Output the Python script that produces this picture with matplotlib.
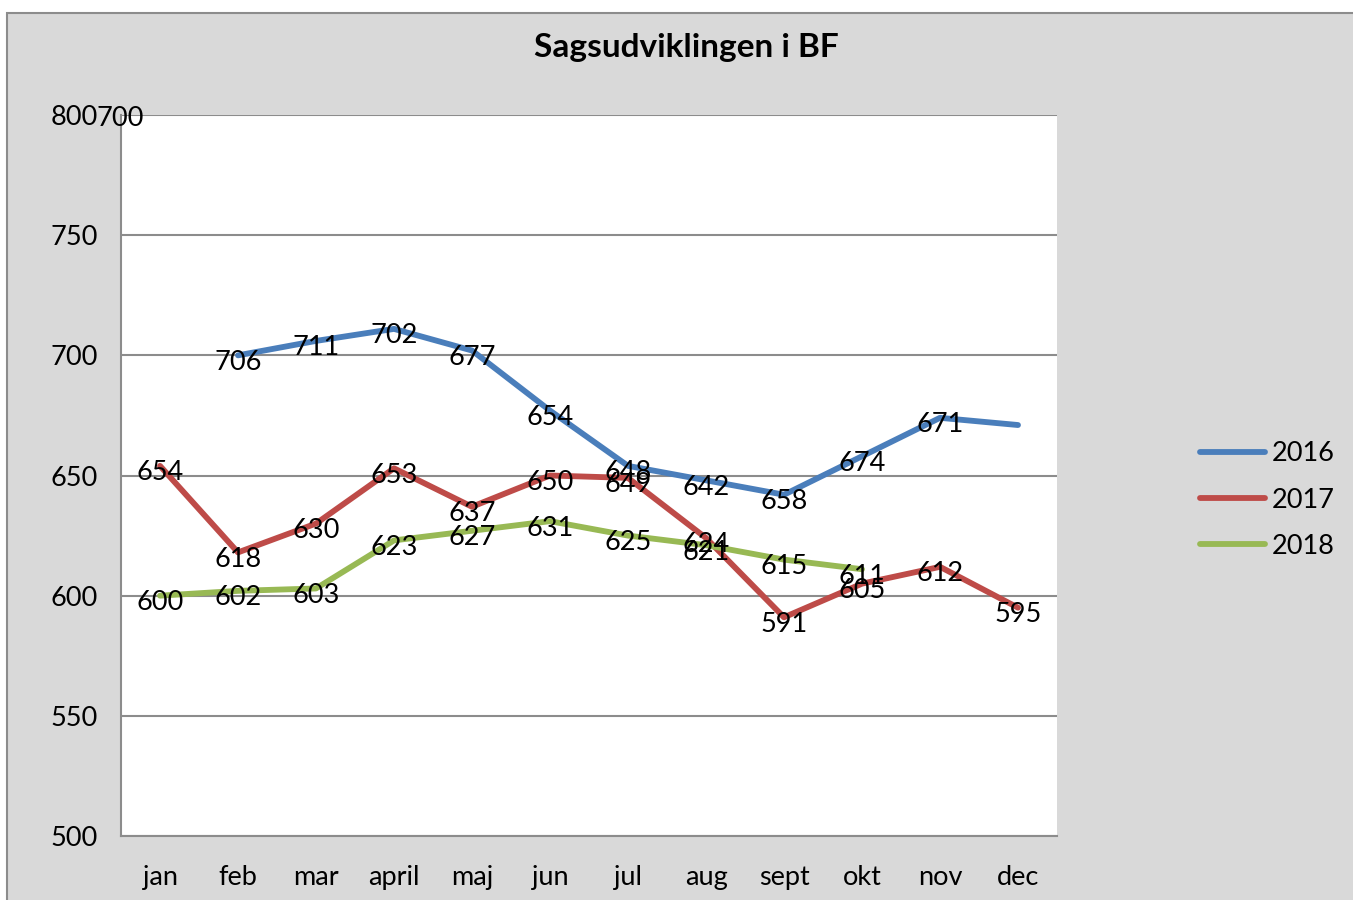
import numpy as np
import matplotlib.pyplot as plt
from matplotlib.patches import Rectangle
from matplotlib.transforms import offset_copy

plt.rcParams["font.family"] = ["Lato", "DejaVu Sans"]

months = ["jan", "feb", "mar", "april", "maj", "jun", "jul", "aug", "sept", "okt", "nov", "dec"]

vals_2016 = [np.nan, 700, 706, 711, 702, 677, 654, 648, 642, 658, 674, 671]
# data labels as they appear in the source (shifted one month)
labels_2016 = ["", "706", "711", "702", "677", "654", "648", "642", "658", "674", "671", ""]
stray_label_2016 = "700"

vals_2017 = [654, 618, 630, 653, 637, 650, 649, 624, 591, 605, 612, 595]
labels_2017 = [str(v) for v in vals_2017]

vals_2018 = [600, 602, 603, 623, 627, 631, 625, 621, 615, 611, np.nan, np.nan]
labels_2018 = ["600", "602", "603", "623", "627", "631", "625", "621", "615", "611", "", ""]

series = [
    ("2016", vals_2016, labels_2016, "#4a7ebb"),
    ("2017", vals_2017, labels_2017, "#be4b48"),
    ("2018", vals_2018, labels_2018, "#98b954"),
]

FS = 19.5
W, H = 1353, 900
fig = plt.figure(figsize=(W / 100, H / 100), dpi=100)
fig.patch.set_facecolor("white")
fig.patches.append(Rectangle((7 / W, -0.01), 1.0, (H - 13) / H + 0.01,
                             transform=fig.transFigure, facecolor="#d9d9d9",
                             edgecolor="#8c8c8c", linewidth=1.5, zorder=-10))

ax = fig.add_axes([121 / W, (H - 836) / H, (1057 - 121) / W, (836 - 115) / H])
ax.set_facecolor("white")

x = np.arange(len(months))
lab_tr = offset_copy(ax.transData, fig=fig, x=0, y=-5, units="points")
for name, vals, labs, col in series:
    ax.plot(x, vals, color=col, linewidth=4.2, label=name, solid_capstyle="round", zorder=3)
    for xi, v, lab in zip(x, vals, labs):
        if lab and not np.isnan(v):
            ax.text(xi, v, lab, ha="center", va="center", fontsize=FS, color="black",
                    transform=lab_tr, zorder=4)

ax.set_xlim(-0.5, len(months) - 0.5)
ax.set_ylim(500, 800)
ax.set_yticks(np.arange(500, 801, 50))
ax.set_xticks(x)
ax.set_xticklabels(months)
ax.tick_params(axis="both", length=0, labelsize=FS, colors="black")
ax.tick_params(axis="y", pad=17)
ax.tick_params(axis="x", pad=21)
ax.yaxis.grid(True, color="#8c8c8c", linewidth=1.5)
ax.set_axisbelow(True)
for s in ["top", "right"]:
    ax.spines[s].set_visible(False)
for s in ["left", "bottom"]:
    ax.spines[s].set_color("#8c8c8c")
    ax.spines[s].set_linewidth(1.5)

# stray data label right after the top tick label
fig.text(97 / W, (H - 119) / H, stray_label_2016, ha="left", va="center", fontsize=FS)

fig.text(686 / W, (H - 47) / H, "Sagsudviklingen i BF", ha="center", va="center",
         fontsize=24, fontweight="bold")

fig.legend(loc="center left", bbox_to_anchor=(1200 / W, (H - 500) / H), frameon=False,
           fontsize=FS, handlelength=2.4, handletextpad=0.25, labelspacing=0.78,
           borderpad=0, borderaxespad=0)

fig.savefig("out.png", dpi=100)
